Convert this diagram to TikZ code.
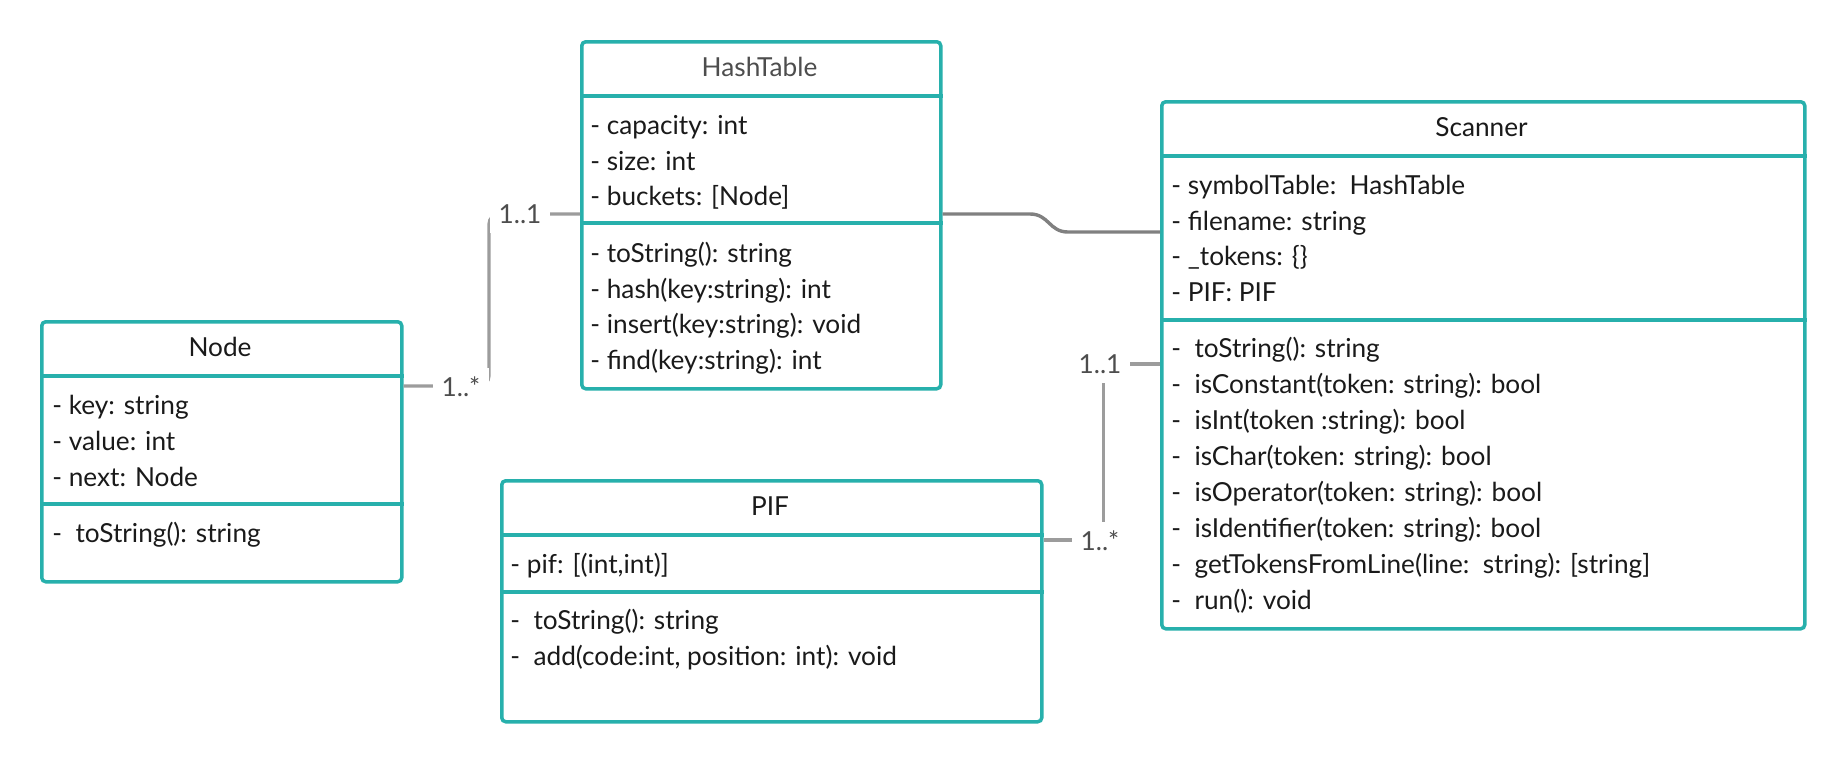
\documentclass[tikz,border=0pt]{standalone}
\usepackage{fontspec}
\setmainfont{Lato}
\usetikzlibrary{calc}
\definecolor{umlteal}{HTML}{27B0AC}
\definecolor{txt}{HTML}{1A1A1A}
\definecolor{ttlgray}{HTML}{4D4D4D}
\definecolor{lbl}{HTML}{4D4D4D}
\definecolor{lgray}{HTML}{9C9C9C}
\definecolor{dgray}{HTML}{808080}
\begin{document}
\begin{tikzpicture}[x=0.5pt,y=-0.5pt,
  umlbox/.style={draw=umlteal, line width=1.75pt, rounded corners=2pt, fill=white, inner sep=0pt, anchor=north west},
  sepline/.style={draw=umlteal, line width=1.75pt},
  ttl/.style={inner sep=0pt, font=\fontsize{13.1}{15}\selectfont, text=txt, text height=9.5pt, text depth=2pt},
  item/.style={anchor=west, inner sep=0pt, font=\fontsize{13.1}{15}\selectfont, text=txt, text height=9.5pt, text depth=0.8pt},
  mult/.style={fill=white, inner sep=4.5pt, font=\fontsize{13.1}{15}\selectfont, text=lbl},
  assoc/.style={draw=lgray, line width=1.6pt},
  assocdark/.style={draw=dgray, line width=1.7pt},
]
\useasboundingbox[fill=white] (0,0) rectangle (1840,760);

% ---------- Node ----------
\node[umlbox, minimum width=180pt, minimum height=130pt] (nodebox) at (40,320) {};
\draw[sepline] ($(nodebox.north west)+(0,56)$) -- ($(nodebox.north east)+(0,56)$);
\draw[sepline] ($(nodebox.north west)+(0,184)$) -- ($(nodebox.north east)+(0,184)$);
\node[ttl] (nodeT) at (220,349) {Node};
\node[item] (nodeA1) at (52,406) {- key: string};
\node[item] (nodeA2) at (52,442) {- value: int};
\node[item] (nodeA3) at (52,478) {- next: Node};
\node[item] (nodeM1) at (52,534) {-\ \ toString(): string};

% ---------- HashTable ----------
\node[umlbox, minimum width=179.5pt, minimum height=173.5pt] (ht) at (580,40) {};
\draw[sepline] ($(ht.north west)+(0,56)$) -- ($(ht.north east)+(0,56)$);
\draw[sepline] ($(ht.north west)+(0,183)$) -- ($(ht.north east)+(0,183)$);
\node[ttl, text=ttlgray] (htT) at (759.5,69) {HashTable};
\node[item] (htA1) at (590,126) {- capacity: int};
\node[item] (htA2) at (590,162) {- size: int};
\node[item] (htA3) at (590,197) {- buckets: [Node]};
\node[item] (htM1) at (590,254) {- toString(): string};
\node[item] (htM2) at (590,290) {- hash(key:string): int};
\node[item] (htM3) at (590,325) {- insert(key:string): void};
\node[item] (htM4) at (590,361) {- find(key:string): int};

% ---------- Scanner ----------
\node[umlbox, minimum width=321.5pt, minimum height=263.5pt] (sc) at (1160,100) {};
\draw[sepline] ($(sc.north west)+(0,56)$) -- ($(sc.north east)+(0,56)$);
\draw[sepline] ($(sc.north west)+(0,220)$) -- ($(sc.north east)+(0,220)$);
\node[ttl] (scT) at (1481.5,129) {Scanner};
\node[item] (scA1) at (1171,186) {- symbolTable:\ \ HashTable};
\node[item] (scA2) at (1171,222) {- filename: string};
\node[item] (scA3) at (1171,257) {- \_tokens: \{\}};
\node[item] (scA4) at (1171,293) {- PIF: PIF};
\node[item] (scM1) at (1171,349) {-\ \ toString(): string};
\node[item] (scM2) at (1171,385) {-\ \ isConstant(token: string): bool};
\node[item] (scM3) at (1171,421) {-\ \ isInt(token :string): bool};
\node[item] (scM4) at (1171,457) {-\ \ isChar(token: string): bool};
\node[item] (scM5) at (1171,493) {-\ \ isOperator(token: string): bool};
\node[item] (scM6) at (1171,529) {-\ \ isIdentifier(token: string): bool};
\node[item] (scM7) at (1171,565) {-\ \ getTokensFromLine(line:\ \ string): [string]};
\node[item] (scM8) at (1171,601) {-\ \ run(): void};

% ---------- PIF ----------
\node[umlbox, minimum width=270pt, minimum height=120.5pt] (pif) at (500,479) {};
\draw[sepline] ($(pif.north west)+(0,56)$) -- ($(pif.north east)+(0,56)$);
\draw[sepline] ($(pif.north west)+(0,113)$) -- ($(pif.north east)+(0,113)$);
\node[ttl] (pifT) at (770,508) {PIF};
\node[item] (pifA1) at (510,565) {- pif: [(int,int)]};
\node[item] (pifM1) at (510,621) {-\ \ toString(): string};
\node[item] (pifM2) at (510,657) {-\ \ add(code:int, position: int): void};

% ---------- connectors ----------
\draw[assoc, rounded corners=5pt] ($(nodebox.north east)+(0,66)$) -| ($(ht.north west)+(-91,174)$) -- ($(ht.north west)+(0,174)$);
\draw[assocdark] ($(ht.north east)+(0,174)$) -- (1030,214) .. controls (1049,214) and (1049,232) .. (1068,232) -- ($(sc.north west)+(0,132)$);
\draw[assoc] ($(sc.north west)+(0,264)$) -| ($(pif.north east)+(60,61)$) -- ($(pif.north east)+(0,61)$);

% ---------- multiplicities ----------
\node[mult] (m1) at (461,387) {1..*};
\node[mult] (m2) at (520,214) {1..1};
\node[mult] (m3) at (1100,364) {1..1};
\node[mult] (m4) at (1100,541) {1..*};
\end{tikzpicture}
\end{document}
